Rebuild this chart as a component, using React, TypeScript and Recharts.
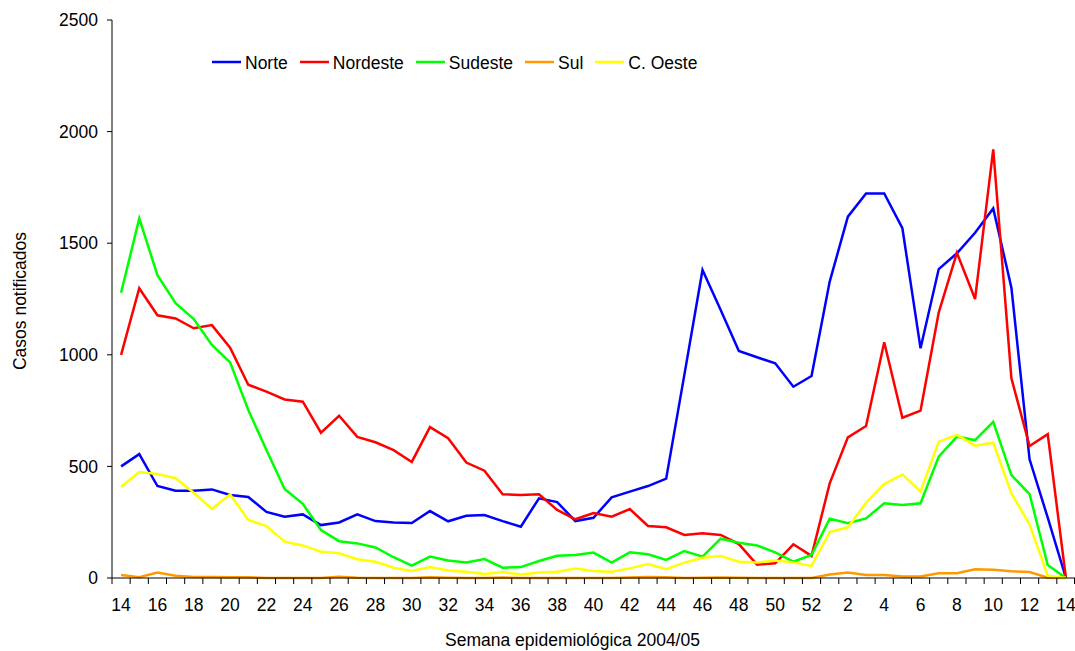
import React from 'react';
import { LineChart, Line, XAxis, YAxis, Label } from 'recharts';

const weeks: number[] = [
  14, 15, 16, 17, 18, 19, 20, 21, 22, 23, 24, 25, 26, 27, 28, 29, 30, 31, 32, 33,
  34, 35, 36, 37, 38, 39, 40, 41, 42, 43, 44, 45, 46, 47, 48, 49, 50, 51, 52,
  1, 2, 3, 4, 5, 6, 7, 8, 9, 10, 11, 12, 13, 14,
];

const norte: number[] = [
  500, 555, 412, 391, 391, 397, 372, 363, 296, 275, 285, 237, 249, 285, 255, 249, 246, 300, 254, 279,
  282, 255, 230, 357, 340, 255, 270, 361, 387, 412, 445, 910, 1380, 1201, 1017, 989, 962, 857, 905,
  1328, 1619, 1723, 1723, 1567, 1029, 1384, 1455, 1547, 1656, 1301, 532, 270, 0,
];
const nordeste: number[] = [
  1000, 1298, 1177, 1163, 1119, 1133, 1032, 866, 835, 800, 790, 651, 727, 632, 608, 573, 520, 676, 626, 517,
  481, 375, 372, 375, 305, 263, 291, 275, 309, 233, 227, 193, 200, 193, 152, 60, 66, 151, 99,
  424, 630, 681, 1056, 718, 750, 1189, 1457, 1250, 1920, 895, 591, 644, 0,
];
const sudeste: number[] = [
  1278, 1611, 1357, 1231, 1160, 1044, 966, 753, 573, 399, 332, 215, 165, 155, 137, 93, 55, 96, 78, 70,
  85, 46, 49, 76, 100, 103, 114, 69, 115, 106, 81, 121, 96, 176, 158, 146, 115, 73, 103,
  266, 245, 267, 335, 327, 335, 544, 633, 618, 700, 461, 376, 58, 0,
];
const sul: number[] = [
  13, 3, 24, 10, 4, 5, 3, 3, 0, 0, 0, 0, 6, 1, 0, 0, 0, 3, 1, 0,
  0, 2, 0, 0, 0, 0, 0, 0, 2, 4, 3, 0, 1, 2, 1, 0, 0, 0, 0,
  16, 25, 13, 13, 7, 7, 21, 21, 39, 37, 30, 27, 1, 0,
];
const cOeste: number[] = [
  409, 475, 466, 447, 382, 309, 375, 260, 233, 163, 146, 118, 111, 84, 73, 46, 31, 49, 34, 28,
  18, 27, 16, 25, 28, 43, 31, 28, 43, 63, 39, 69, 91, 99, 73, 69, 78, 70, 54,
  206, 227, 337, 421, 464, 387, 611, 641, 593, 606, 379, 240, 10, 0,
];
const yTicks: number[] = [0, 500, 1000, 1500, 2000, 2500];

const seriesDefs = [
  { key: 'norte', name: 'Norte', color: '#0000FF', values: norte },
  { key: 'nordeste', name: 'Nordeste', color: '#FF0000', values: nordeste },
  { key: 'sudeste', name: 'Sudeste', color: '#00FF00', values: sudeste },
  { key: 'sul', name: 'Sul', color: '#FF9900', values: sul },
  { key: 'cOeste', name: 'C. Oeste', color: '#FFFF00', values: cOeste },
];

const data = weeks.map((w, i) => {
  const row: Record<string, number> = { i, week: w };
  seriesDefs.forEach((s) => {
    row[s.key] = s.values[i];
  });
  return row;
});

const FONT = '"Liberation Sans", Arial, sans-serif';
const FS = 17.5;

const W = 1075;
const H = 651;
const PLOT_LEFT = 112;

const XTick = (props: any) => {
  const { x, y, payload } = props;
  const idx = Number(payload.value);
  const half =
    payload && typeof payload.offset === 'number' && payload.offset > 0
      ? payload.offset
      : (W - PLOT_LEFT) / weeks.length / 2;
  return (
    <g>
      <line x1={x - half} x2={x - half} y1={y} y2={y + 6} stroke="#000" strokeWidth={1} />
      {idx === weeks.length - 1 && (
        <line x1={x + half - 0.5} x2={x + half - 0.5} y1={y} y2={y + 6} stroke="#000" strokeWidth={1} />
      )}
      {idx % 2 === 0 && (
        <text x={x} y={y + 33} textAnchor="middle" fontFamily={FONT} fontSize={FS} fill="#000">
          {weeks[idx]}
        </text>
      )}
    </g>
  );
};

const LegendBox = () => (
  <div
    style={{
      position: 'absolute',
      left: 212,
      top: 53,
      display: 'flex',
      alignItems: 'center',
      fontFamily: FONT,
      fontSize: FS,
      lineHeight: '20px',
      color: '#000',
      whiteSpace: 'nowrap',
    }}
  >
    {seriesDefs.map((s) => (
      <div key={s.key} style={{ display: 'flex', alignItems: 'center', marginRight: 12 }}>
        <svg width={29} height={4} style={{ marginRight: 4, marginTop: -3 }}>
          <line x1={0} x2={29} y1={2} y2={2} stroke={s.color} strokeWidth={2.5} />
        </svg>
        <span>{s.name}</span>
      </div>
    ))}
  </div>
);

const YTitle = () => {
  const cx = 25.5;
  const cy = 301;
  return (
    <text
      x={cx}
      y={cy}
      transform={`rotate(-90, ${cx}, ${cy})`}
      textAnchor="middle"
      fontFamily={FONT}
      fontSize={FS}
      fill="#000"
    >
      Casos notificados
    </text>
  );
};

const XTitle = () => (
  <text x={572.5} y={646} textAnchor="middle" fontFamily={FONT} fontSize={FS} fill="#000">
    Semana epidemiológica 2004/05
  </text>
);

export default function App() {
  return (
    <div style={{ position: 'absolute', left: 0, top: 0, width: W, height: H, background: '#fff' }}>
      <LineChart width={W} height={H} data={data} margin={{ top: 20, right: 0, left: 0, bottom: 0 }}>
        <XAxis
          dataKey="i"
          type="category"
          scale="band"
          interval={0}
          height={73}
          tickSize={0}
          tickMargin={0}
          tickLine={false}
          axisLine={{ stroke: '#000', strokeWidth: 1 }}
          tick={<XTick />}
        >
          <Label content={<XTitle />} />
        </XAxis>
        <YAxis
          type="number"
          domain={[0, 2500]}
          ticks={yTicks}
          interval={0}
          width={PLOT_LEFT}
          tickSize={5}
          tickMargin={9}
          axisLine={{ stroke: '#000', strokeWidth: 1 }}
          tickLine={{ stroke: '#000', strokeWidth: 1 }}
          tick={{ fontFamily: FONT, fontSize: FS, fill: '#000' }}
        >
          <Label content={<YTitle />} />
        </YAxis>
        {seriesDefs.map((s) => (
          <Line
            key={s.key}
            type="linear"
            dataKey={s.key}
            name={s.name}
            stroke={s.color}
            strokeWidth={2.5}
            dot={false}
            activeDot={false}
            isAnimationActive={false}
          />
        ))}
      </LineChart>
      <LegendBox />
    </div>
  );
}
